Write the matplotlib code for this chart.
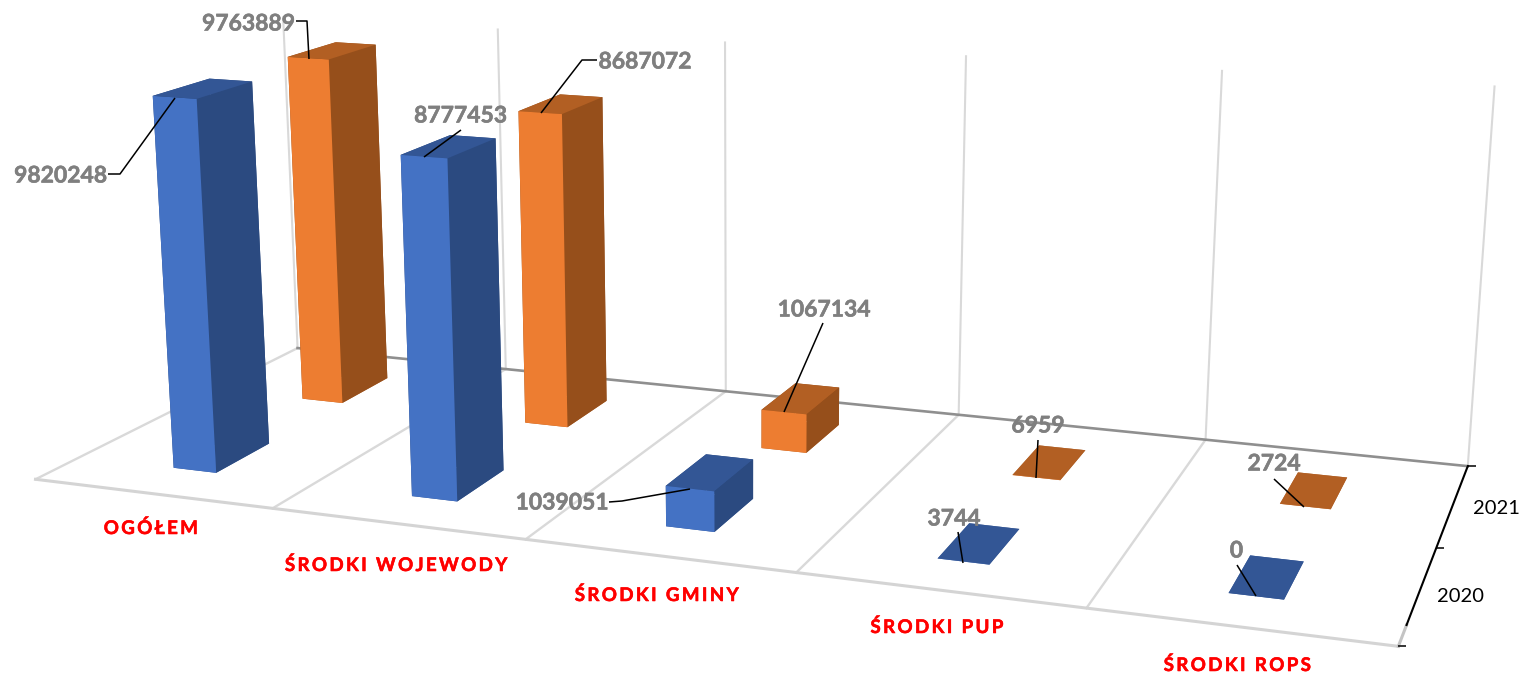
import numpy as np
import matplotlib
matplotlib.use('Agg')
import matplotlib.pyplot as plt
import matplotlib.patheffects as pe

categories = ['OGÓŁEM', 'ŚRODKI WOJEWODY', 'ŚRODKI GMINY', 'ŚRODKI PUP', 'ŚRODKI ROPS']
years = ['2020', '2021']
values_2020 = [9820248, 8777453, 1039051, 3744, 0]
values_2021 = [9763889, 8687072, 1067134, 6959, 2724]

# colours per face: bottom, top, front, back, left, right
blue = ['#335695', '#335695', '#4472C4', '#2B4A80', '#2B4A80', '#2B4A80']
orange = ['#B25F23', '#B25F23', '#ED7D31', '#964F1B', '#964F1B', '#964F1B']

W, H = 1524, 675
GAP_X, GAP_Y = 0.4085, 0.3004
ZMAX = 10.046

# camera fitted to the reference (world x, y, z -> pixels)
cam_x = np.array([228.46856, 156.91066, -2.7127365, 35.505413])
cam_y = np.array([13.02513, -35.335949, -38.723798, 479.28404])
cam_w = np.array([-0.03153773, 0.0869798, -0.0036259418, 1])
# mplot3d masks lines outside -1..1, so keep the output in -0.5..0.5
M = np.array([
    cam_x / W - 0.5 * cam_w,
    0.5 * cam_w - cam_y / H,
    [0, 0, 0, -1],
    cam_w,
])

plt.rcParams['font.family'] = ['Lato', 'DejaVu Sans']

fig = plt.figure(figsize=(W / 100, H / 100), dpi=100)
ax = fig.add_axes([0, 0, 1, 1], projection='3d')
ax.apply_aspect = lambda position=None: None
ax.get_proj = lambda: M
ax.set_axis_off()
ax.computed_zorder = False
ax.patch.set_alpha(0)

n = len(categories)
light = '#D9D9D9'

# floor and wall lines
for i in range(n + 1):
    ax.plot([i, i], [2, 2], [0, ZMAX], color=light, lw=1.5, zorder=1)
    if i < n:
        ax.plot([i, i], [0, 2], [0, 0], color=light, lw=1.7, zorder=1)
ax.plot([0, n], [2, 2], [0, 0], color='#8F8F8F', lw=1.9, zorder=2)
ax.plot([0, n], [0, 0], [0, 0], color='#D4D4D4', lw=2.2, zorder=2)

# depth axis
ax.plot([n, n], [0, 0.2], [0, 0], color='#C4C4C4', lw=2.2, zorder=2)
ax.plot([n, n], [0.2, 2], [0, 0], color='black', lw=1.5, zorder=3)
ax.plot([n, n, n], [0, 1, 2], [0, 0, 0], ls='none', marker=1, ms=6, mew=1.1,
        color='black', zorder=3)

# bars, back row first
for j, (vals, cols) in sorted(enumerate([(values_2020, blue), (values_2021, orange)]),
                              key=lambda t: -t[0]):
    for i, v in enumerate(vals):
        ax.bar3d(i + GAP_X, j + GAP_Y, 0,
                 1 - 2 * GAP_X, 1 - 2 * GAP_Y, v / 1e6,
                 color=cols, shade=False, edgecolor='none', zorder=10 - j)

ax.viewLim.intervalx = (-0.5, 0.5)
ax.viewLim.intervaly = (-0.5, 0.5)

# overlay in pixel coordinates for labels and leaders
top = fig.add_axes([0, 0, 1, 1], zorder=5)
top.set_xlim(0, W)
top.set_ylim(H, 0)
top.axis('off')

all_values = values_2020 + values_2021
label_pos = [(60.5, 175), (460.5, 115), (562, 502), (954, 518), (1236.5, 550),
             (248.5, 23), (645, 61), (824, 309), (1038, 425), (1274, 463)]
leaders = [
    [(108, 174), (120, 174), (175, 98)],
    [(461, 130), (424, 157)],
    [(609, 502), (622, 501), (690, 489)],
    [(958, 532), (963, 563)],
    [(1237, 565), (1256, 596)],
    [(296, 21), (307, 21), (309, 59)],
    [(597, 60), (582, 60), (541, 113)],
    [(823, 323), (784, 412)],
    [(1038, 440), (1036, 478)],
    [(1274, 479), (1304, 507)],
]
for v, (x, y), line in zip(all_values, label_pos, leaders):
    xs, ys = zip(*line)
    top.plot(xs, ys, color='black', lw=1.1, solid_capstyle='butt')
    top.text(x, y + 1, str(v), color='#7F7F7F', fontsize=16.5, fontweight='bold',
             ha='center', va='center',
             path_effects=[pe.withStroke(linewidth=0.4, foreground='#7F7F7F')])

cat_pos = [(151, 528), (396.5, 565), (657, 595), (937, 627), (1237.5, 665)]
for c, (x, y) in zip(categories, cat_pos):
    top.text(x, y, '\u2009'.join(c), color='#FF0000', fontsize=13.5, fontweight='bold',
             ha='center', va='center',
             path_effects=[pe.withStroke(linewidth=0.4, foreground='#FF0000')])

year_pos = [(1461, 597), (1496, 508)]
for yr, (x, y) in zip(years, year_pos):
    top.text(x, y, yr, color='black', fontsize=14.5, ha='center', va='center')

fig.savefig('out.png', dpi=100)
